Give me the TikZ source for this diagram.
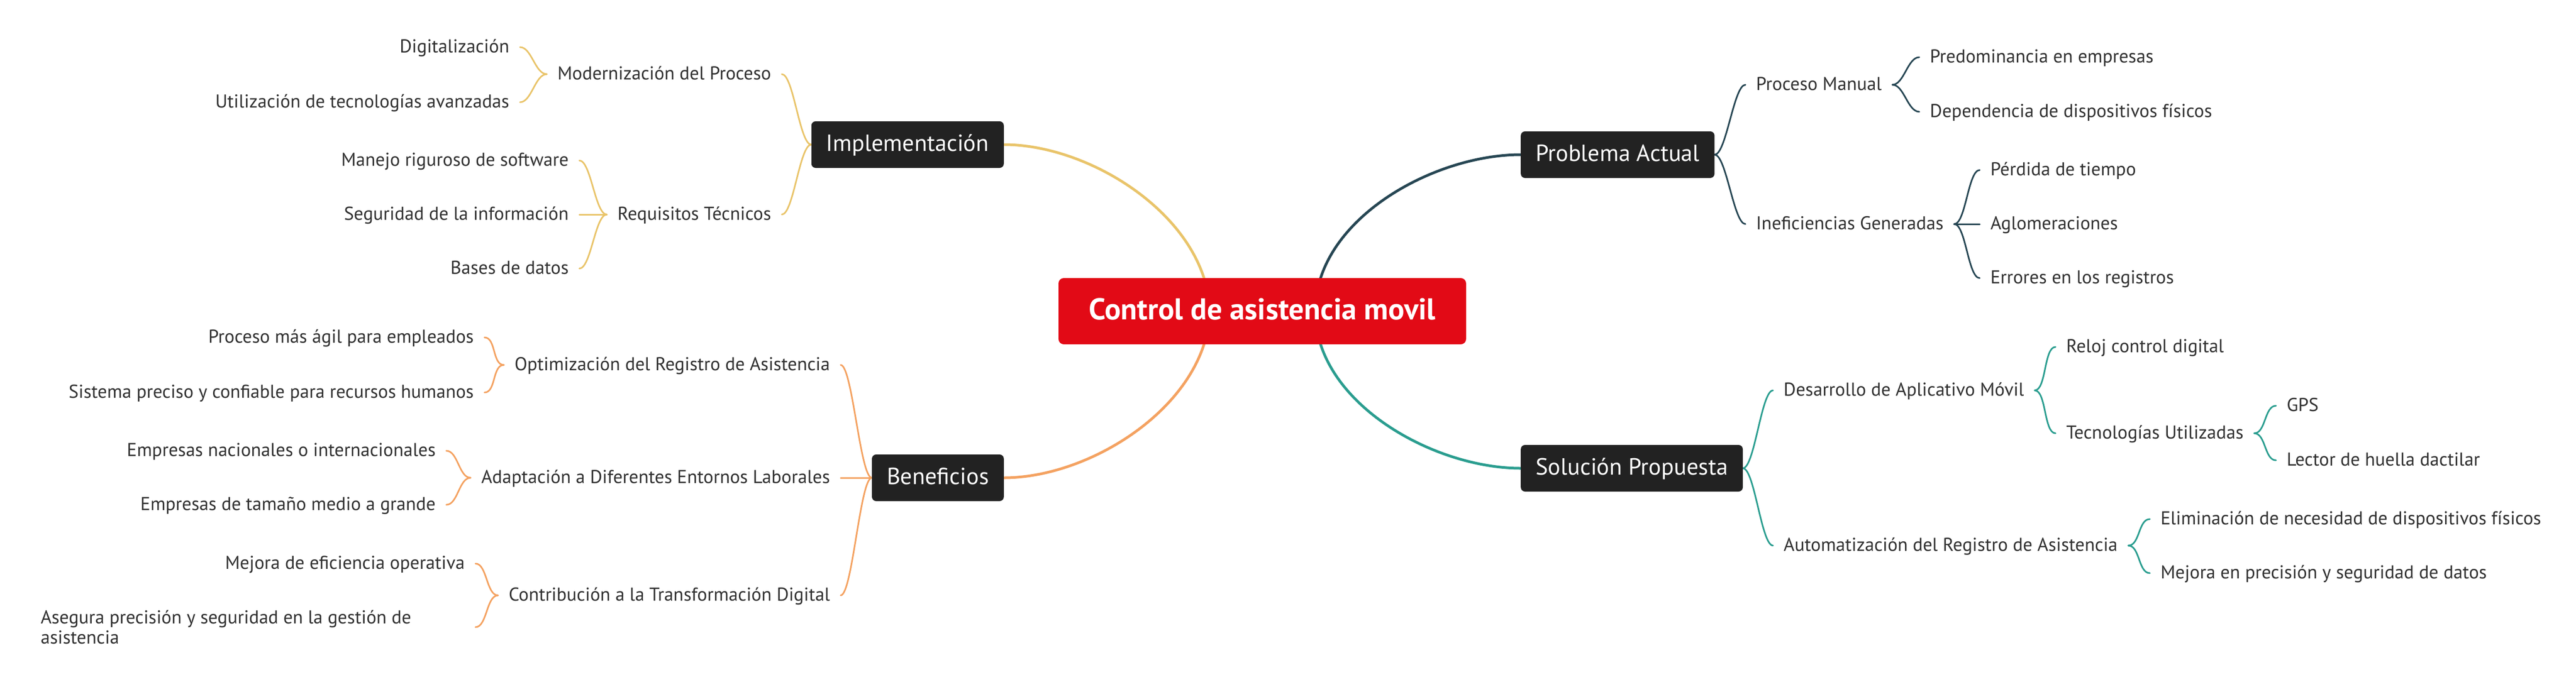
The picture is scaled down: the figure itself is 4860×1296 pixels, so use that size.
\documentclass[tikz,border=0pt]{standalone}
\usepackage{fontspec}
\setmainfont{PT Sans}
\definecolor{cyel}{HTML}{E9C46A}
\definecolor{corg}{HTML}{F4A261}
\definecolor{cdark}{HTML}{264653}
\definecolor{cteal}{HTML}{2A9D8F}
\definecolor{cred}{HTML}{E20A16}
\definecolor{cbox}{HTML}{222222}
\definecolor{ctext}{HTML}{303030}
\newlength\wref
\pgfdeclarelayer{bg}
\pgfsetlayers{bg,main}
\tikzset{
  leaf/.style={inner xsep=20pt, inner ysep=0pt, text=ctext,
    font=\fontsize{\fsleaf}{38}\selectfont, text height=\leafht, text depth=\leafdp},
  leafml/.style={inner xsep=20pt, inner ysep=0pt, text=ctext,
    font=\fontsize{\fsleaf}{38}\selectfont, align=flush left},
  topbox/.style={fill=cbox, rounded corners=8pt, text=white, inner xsep=28pt,
    minimum height=88pt, font=\fontsize{\fsbox}{50}\selectfont,
    text height=\boxht, text depth=\boxdp},
  centerbox/.style={fill=cred, rounded corners=10pt, text=white,
    minimum width=769pt, minimum height=125pt,
    font=\fontsize{\fstitle}{70}\selectfont\bfseries,
    text height=\titleht, text depth=\titledp},
  mainc/.style={line width=5pt, line cap=round},
  subc/.style={line width=3pt, line cap=round},
  brace/.style={out=180, in=0, distance=22pt},
  braceR/.style={out=0, in=180, distance=22pt},
}
\begin{document}
\settowidth\wref{\fontsize{10}{12}\selectfont Modernización del Proceso}%
\pgfmathsetmacro\fsleaf{10*403/\wref}%
\settowidth\wref{\fontsize{10}{12}\selectfont Implementación}%
\pgfmathsetmacro\fsbox{10*307/\wref}%
\settowidth\wref{\fontsize{10}{12}\selectfont\bfseries Control de asistencia movil}%
\pgfmathsetmacro\fstitle{10*654/\wref}%
\pgfmathsetlengthmacro\leafht{0.70*\fsleaf}%
\pgfmathsetlengthmacro\leafdp{0.12*\fsleaf}%
\pgfmathsetlengthmacro\boxht{0.70*\fsbox}%
\pgfmathsetlengthmacro\boxdp{0.14*\fsbox}%
\pgfmathsetlengthmacro\titleht{0.70*\fstitle}%
\pgfmathsetlengthmacro\titledp{0.14*\fstitle}%
\begin{tikzpicture}[x=1pt,y=-1pt]
\begin{pgfonlayer}{bg}
\fill[white] (0,0) rectangle (4860,1296);
\end{pgfonlayer}
\useasboundingbox (0,0) rectangle (4860,1296);

% central and main topics
\node[centerbox] (c) at (2381.5,587.5) {Control de asistencia movil};
\node[topbox, anchor=east] (impl) at (1894,273) {Implementación};
\node[topbox, anchor=east] (ben) at (1894,902) {Beneficios};
\node[topbox, anchor=west] (prob) at (2869,292) {Problema Actual};
\node[topbox, anchor=west] (sol) at (2869,884) {Solución Propuesta};

% Implementacion subtree
\node[leaf, anchor=east] (mod) at (1475,140) {Modernización del Proceso};
\node[leaf, anchor=east] (req) at (1475,405) {Requisitos Técnicos};
\node[leaf, anchor=east] (dig) at (981,89) {Digitalización};
\node[leaf, anchor=east] (uti) at (981,193) {Utilización de tecnologías avanzadas};
\node[leaf, anchor=east] (man) at (1093,303) {Manejo riguroso de software};
\node[leaf, anchor=east] (seg) at (1093,405) {Seguridad de la información};
\node[leaf, anchor=east] (bas) at (1093,507) {Bases de datos};

% Beneficios subtree
\node[leaf, anchor=east] (opt) at (1586,689) {Optimización del Registro de Asistencia};
\node[leaf, anchor=east] (ada) at (1586,902) {Adaptación a Diferentes Entornos Laborales};
\node[leaf, anchor=east] (con) at (1586,1124) {Contribución a la Transformación Digital};
\node[leaf, anchor=east] (pro) at (914,637) {Proceso más ágil para empleados};
\node[leaf, anchor=east] (sis) at (914,741) {Sistema preciso y confiable para recursos humanos};
\node[leaf, anchor=east] (emn) at (842,851) {Empresas nacionales o internacionales};
\node[leaf, anchor=east] (emt) at (842,953) {Empresas de tamaño medio a grande};
\node[leaf, anchor=east] (mej) at (897,1064) {Mejora de eficiencia operativa};
\node[leafml, anchor=east, text width=800pt] (ase) at (897,1184) {Asegura precisión y seguridad en la gestión de\\asistencia};

% Problema subtree
\node[leaf, anchor=west] (pm) at (3293,160) {Proceso Manual};
\node[leaf, anchor=west] (ine) at (3293,423) {Ineficiencias Generadas};
\node[leaf, anchor=west] (pre) at (3621,108) {Predominancia en empresas};
\node[leaf, anchor=west] (dep) at (3621,211) {Dependencia de dispositivos físicos};
\node[leaf, anchor=west] (per) at (3735,321) {Pérdida de tiempo};
\node[leaf, anchor=west] (agl) at (3735,423) {Aglomeraciones};
\node[leaf, anchor=west] (err) at (3735,525) {Errores en los registros};

% Solucion subtree
\node[leaf, anchor=west] (des) at (3345,737) {Desarrollo de Aplicativo Móvil};
\node[leaf, anchor=west] (aut) at (3345,1030) {Automatización del Registro de Asistencia};
\node[leaf, anchor=west] (rel) at (3878,655) {Reloj control digital};
\node[leaf, anchor=west] (tec) at (3878,818) {Tecnologías Utilizadas};
\node[leaf, anchor=west] (gps) at (4294,766) {GPS};
\node[leaf, anchor=west] (lec) at (4294,869) {Lector de huella dactilar};
\node[leaf, anchor=west] (eli) at (4056,980) {Eliminación de necesidad de dispositivos físicos};
\node[leaf, anchor=west] (mpr) at (4056,1082) {Mejora en precisión y seguridad de datos};

\begin{pgfonlayer}{bg}
% main connectors
\draw[mainc, cyel] ([xshift=-110pt]c.north) to[out=108, in=0, out distance=152pt, in distance=146pt] (impl.east);
\draw[mainc, corg] ([xshift=-110pt]c.south) to[out=-108, in=0, out distance=152pt, in distance=146pt] (ben.east);
\draw[mainc, cdark] ([xshift=110pt]c.north) to[out=72, in=180, out distance=145pt, in distance=146pt] (prob.west);
\draw[mainc, cteal] ([xshift=110pt]c.south) to[out=-72, in=180, out distance=145pt, in distance=146pt] (sol.west);

% Implementacion
\draw[subc, cyel] (impl.west) to[brace] (mod.east);
\draw[subc, cyel] (impl.west) to[brace] (req.east);
\draw[subc, cyel] (mod.west) to[brace] (dig.east);
\draw[subc, cyel] (mod.west) to[brace] (uti.east);
\draw[subc, cyel] (req.west) to[brace] (man.east);
\draw[subc, cyel] (req.west) to[brace] (seg.east);
\draw[subc, cyel] (req.west) to[brace] (bas.east);

% Beneficios
\draw[subc, corg] (ben.west) to[brace] (opt.east);
\draw[subc, corg] (ben.west) to[brace] (ada.east);
\draw[subc, corg] (ben.west) to[brace] (con.east);
\draw[subc, corg] (opt.west) to[brace] (pro.east);
\draw[subc, corg] (opt.west) to[brace] (sis.east);
\draw[subc, corg] (ada.west) to[brace] (emn.east);
\draw[subc, corg] (ada.west) to[brace] (emt.east);
\draw[subc, corg] (con.west) to[brace] (mej.east);
\draw[subc, corg] (con.west) to[brace] (ase.east);

% Problema
\draw[subc, cdark] (prob.east) to[braceR] (pm.west);
\draw[subc, cdark] (prob.east) to[braceR] (ine.west);
\draw[subc, cdark] (pm.east) to[braceR] (pre.west);
\draw[subc, cdark] (pm.east) to[braceR] (dep.west);
\draw[subc, cdark] (ine.east) to[braceR] (per.west);
\draw[subc, cdark] (ine.east) to[braceR] (agl.west);
\draw[subc, cdark] (ine.east) to[braceR] (err.west);

% Solucion
\draw[subc, cteal] (sol.east) to[braceR] (des.west);
\draw[subc, cteal] (sol.east) to[braceR] (aut.west);
\draw[subc, cteal] (des.east) to[braceR] (rel.west);
\draw[subc, cteal] (des.east) to[braceR] (tec.west);
\draw[subc, cteal] (tec.east) to[braceR] (gps.west);
\draw[subc, cteal] (tec.east) to[braceR] (lec.west);
\draw[subc, cteal] (aut.east) to[braceR] (eli.west);
\draw[subc, cteal] (aut.east) to[braceR] (mpr.west);
\end{pgfonlayer}
\end{tikzpicture}
\end{document}
